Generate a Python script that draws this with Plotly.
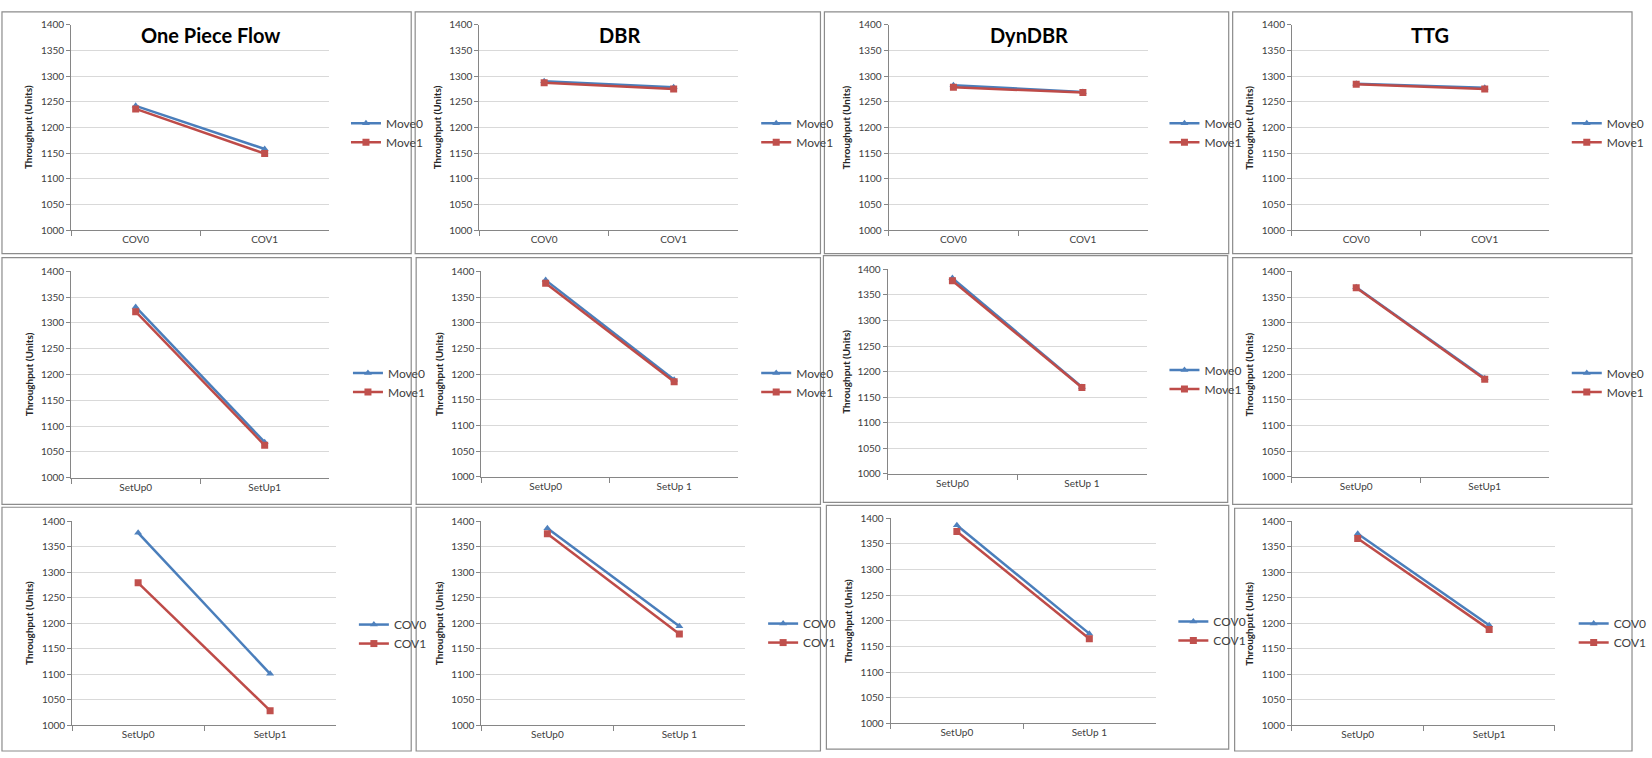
import plotly.graph_objects as go

# ---------------- data ----------------
methods = ["One Piece Flow", "DBR", "DynDBR", "TTG"]

cov_categories = ["COV0", "COV1"]
setup_categories = ["SetUp0", "SetUp1"]
setup_categories_spaced = ["SetUp0", "SetUp 1"]

move_series_names = ["Move0", "Move1"]
cov_series_names = ["COV0", "COV1"]

# Row 1: throughput vs COV, by Move
opf_cov_move0 = [1242, 1158]
opf_cov_move1 = [1236, 1149]
dbr_cov_move0 = [1290, 1278]
dbr_cov_move1 = [1287, 1275]
dyn_cov_move0 = [1282, 1269]
dyn_cov_move1 = [1278, 1268]
ttg_cov_move0 = [1285, 1277]
ttg_cov_move1 = [1284, 1275]

# Row 2: throughput vs SetUp, by Move
opf_setup_move0 = [1331, 1069]
opf_setup_move1 = [1322, 1063]
dbr_setup_move0 = [1383, 1189]
dbr_setup_move1 = [1377, 1185]
dyn_setup_move0 = [1383, 1170]
dyn_setup_move1 = [1378, 1169]
ttg_setup_move0 = [1369, 1192]
ttg_setup_move1 = [1368, 1190]

# Row 3: throughput vs SetUp, by COV
opf_setup_cov0 = [1377, 1101]
opf_setup_cov1 = [1279, 1029]
dbr_setup_cov0 = [1386, 1194]
dbr_setup_cov1 = [1375, 1179]
dyn_setup_cov0 = [1386, 1175]
dyn_setup_cov1 = [1374, 1165]
ttg_setup_cov0 = [1375, 1196]
ttg_setup_cov1 = [1366, 1188]

y_ticks = [1000, 1050, 1100, 1150, 1200, 1250, 1300, 1350, 1400]

panels = [
    (cov_categories, move_series_names, opf_cov_move0, opf_cov_move1),
    (cov_categories, move_series_names, dbr_cov_move0, dbr_cov_move1),
    (cov_categories, move_series_names, dyn_cov_move0, dyn_cov_move1),
    (cov_categories, move_series_names, ttg_cov_move0, ttg_cov_move1),
    (setup_categories, move_series_names, opf_setup_move0, opf_setup_move1),
    (setup_categories_spaced, move_series_names, dbr_setup_move0, dbr_setup_move1),
    (setup_categories_spaced, move_series_names, dyn_setup_move0, dyn_setup_move1),
    (setup_categories, move_series_names, ttg_setup_move0, ttg_setup_move1),
    (setup_categories, cov_series_names, opf_setup_cov0, opf_setup_cov1),
    (setup_categories_spaced, cov_series_names, dbr_setup_cov0, dbr_setup_cov1),
    (setup_categories_spaced, cov_series_names, dyn_setup_cov0, dyn_setup_cov1),
    (setup_categories, cov_series_names, ttg_setup_cov0, ttg_setup_cov1),
]

# ---------------- geometry (pixels) ----------------
W, H = 1652, 758
FONT = "Lato"

plot_boxes = [  # (left, top, right, bottom)
    (72, 18, 333, 227), (485, 18, 747, 227), (899, 18, 1161, 227), (1307, 18, 1567, 227),
    (72, 269, 333, 479), (487, 269, 747, 478), (898, 267, 1160, 475), (1307, 269, 1567, 478),
    (73, 523, 340, 731), (487, 523, 754, 731), (901, 520, 1169, 729), (1307, 523, 1573, 731),
]
frame_boxes = [
    (2, 5, 416, 251), (420, 5, 830, 251), (834, 5, 1243, 251), (1247, 5, 1651, 251),
    (2, 255, 416, 506), (421, 255, 830, 506), (833, 253, 1242, 504), (1247, 255, 1651, 506),
    (2, 509, 416, 757), (421, 509, 830, 757), (836, 507, 1243, 755), (1249, 510, 1651, 757),
]
legend_pos = [  # (left of symbol, vertical middle)
    (350, 128), (765, 128), (1178, 128), (1585, 128),
    (352, 382), (765, 382), (1178, 379), (1585, 382),
    (358, 638), (772, 637), (1187, 635), (1592, 637),
]
title_pos = [(213, 28), (627, 28), (1041, 28), (1447, 28)]

BLUE_LINE, BLUE_MARK = "#4A7EBB", "#4F81BD"
RED_LINE, RED_MARK = "#BE4B48", "#C0504D"
GRID = "#D9D9D9"
AXIS = "#868686"


def fx(x):
    return x / W


def fy(y):
    return 1 - y / H


fig = go.Figure()
layout = dict(
    width=W, height=H,
    margin=dict(l=0, r=0, t=0, b=0),
    paper_bgcolor="white", plot_bgcolor="white",
    font=dict(family=FONT, color="#262626"),
    showlegend=True,
)
shapes = []
annotations = []

for i, (cats, names, s0, s1) in enumerate(panels):
    n = i + 1
    xa = "x" if n == 1 else f"x{n}"
    ya = "y" if n == 1 else f"y{n}"
    lg = "legend" if n == 1 else f"legend{n}"
    l, t, r, b = plot_boxes[i]

    for name, vals, lc, mc, sym in [
        (names[0], s0, BLUE_LINE, BLUE_MARK, "triangle-up"),
        (names[1], s1, RED_LINE, RED_MARK, "square"),
    ]:
        fig.add_trace(go.Scatter(
            x=cats, y=vals, name=name, mode="lines+markers",
            line=dict(color=lc, width=2.5),
            marker=dict(symbol=sym, size=7, color=mc, line=dict(width=0)),
            xaxis=xa, yaxis=ya, legend=lg,
        ))

    layout["xaxis" if n == 1 else f"xaxis{n}"] = dict(
        domain=[fx(l), fx(r)], anchor=ya, type="category",
        categoryorder="array", categoryarray=cats, range=[-0.5, 1.5],
        showline=True, linecolor=AXIS, linewidth=1,
        ticks="outside", tickson="boundaries", ticklen=5, tickcolor=AXIS,
        showgrid=False, zeroline=False,
        tickfont=dict(size=10, color="#404040", family=FONT),
    )
    layout["yaxis" if n == 1 else f"yaxis{n}"] = dict(
        domain=[fy(b), fy(t)], anchor=xa, range=[1000, 1400],
        tickvals=y_ticks, showgrid=True, gridcolor=GRID, gridwidth=1,
        showline=True, linecolor=AXIS, linewidth=1,
        ticks="outside", ticklen=4, tickcolor=AXIS, zeroline=False,
        tickfont=dict(size=10, color="#404040", family=FONT),
    )
    lx, ly = legend_pos[i]
    layout[lg] = dict(
        x=fx(lx), y=fy(ly), xanchor="left", yanchor="middle",
        xref="paper", yref="paper",
        font=dict(size=12, color="#404040", family=FONT),
        bgcolor="rgba(0,0,0,0)", itemwidth=30, tracegroupgap=0,
        traceorder="normal",
    )
    annotations.append(dict(
        text="<b>Throughput (Units)</b>", textangle=-90,
        x=fx(l - 43), y=fy((t + b) / 2), xref="paper", yref="paper",
        showarrow=False, xanchor="center", yanchor="middle",
        font=dict(size=10, color="#262626", family=FONT),
    ))
    fl, ft, fr, fb = frame_boxes[i]
    shapes.append(dict(
        type="rect", xref="paper", yref="paper",
        x0=fx(fl), x1=fx(fr), y0=fy(fb), y1=fy(ft),
        line=dict(color="#8C8C8C", width=1.2), fillcolor="rgba(0,0,0,0)",
        layer="below",
    ))

for j, m in enumerate(methods):
    tx, ty = title_pos[j]
    annotations.append(dict(
        text=f"<b>{m}</b>", x=fx(tx), y=fy(ty), xref="paper", yref="paper",
        showarrow=False, xanchor="center", yanchor="middle",
        font=dict(size=20, color="#000000", family=FONT),
    ))

layout["shapes"] = shapes
layout["annotations"] = annotations
fig.update_layout(**layout)

fig.write_html(
    "out.html",
    config={"displayModeBar": False},
    post_script="document.body.style.margin='0';document.body.style.overflow='hidden';",
)
